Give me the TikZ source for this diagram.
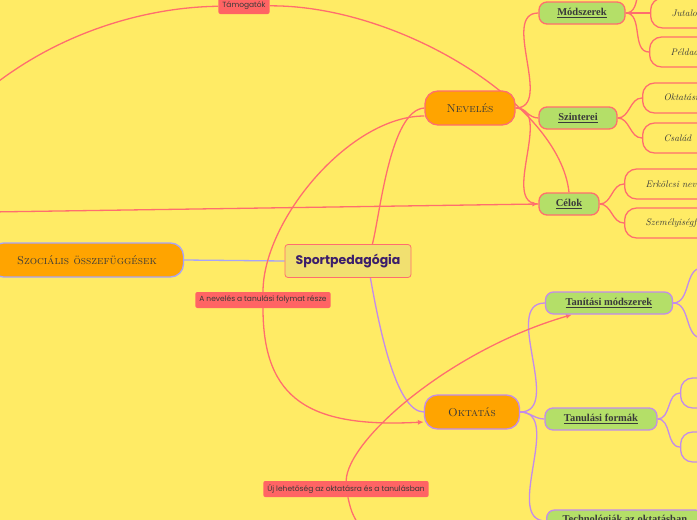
\documentclass[tikz,border=0pt]{standalone}
\usepackage{fontspec}
\newfontfamily\relfont{Poppins}
\newfontfamily\subfont{Liberation Serif}
\usetikzlibrary{arrows.meta,positioning}
\pgfdeclarelayer{paper}
\pgfdeclarelayer{links}
\pgfsetlayers{paper,links,main}
\definecolor{Paper}{HTML}{FFEB65}
\definecolor{Coral}{HTML}{FF6E6E}
\definecolor{Lilac}{HTML}{C38BEB}
\definecolor{Peri}{HTML}{A7A4FA}
\definecolor{Tangerine}{HTML}{FFA400}
\definecolor{Leaf}{HTML}{B4DF68}
\definecolor{Straw}{HTML}{F1E070}
\definecolor{Plum}{HTML}{3B1D6B}
\definecolor{Ink}{HTML}{3A3A3A}
\definecolor{Salmon}{HTML}{FF6464}

\begin{document}
\begin{tikzpicture}[
  x=1pt,y=-1pt,>={Latex[length=6pt,width=5pt]},
  root/.style={draw=Coral,fill=Straw,line width=.8pt,rounded corners=3pt,
    minimum width=126pt,minimum height=33pt,
    font=\relfont\bfseries\fontsize{12.5}{14}\selectfont,text=Plum},
  topic/.style={fill=Tangerine,line width=1.3pt,rounded corners=13pt,
    minimum height=34pt,font=\scshape\fontsize{11.5}{13}\selectfont,text=Ink},
  sub/.style={fill=Leaf,draw=Coral,line width=1.3pt,rounded corners=8pt,
    minimum height=22pt,inner xsep=0pt,
    font=\subfont\bfseries\fontsize{10.5}{12}\selectfont,text=Ink},
  leaf/.style={draw=Coral,line width=1.3pt,rounded corners=12pt,
    minimum height=30pt,text width=110pt,inner xsep=21pt,anchor=west,
    align=left,font=\itshape\fontsize{9.5}{11}\selectfont,text=Ink},
  rel/.style={fill=Salmon,rounded corners=2pt,inner xsep=4pt,inner ysep=0pt,
    minimum height=16pt,font=\relfont\fontsize{7.5}{9}\selectfont,text=Ink},
  branch/.style={draw=Coral,line width=1.3pt},
  lbranch/.style={draw=Lilac,line width=1.3pt},
  link/.style={draw=Coral,line width=1.3pt}
]
\useasboundingbox (0,0) rectangle (697,520);
\begin{pgfonlayer}{paper}
\fill[Paper] (0,0) rectangle (697,520);
\end{pgfonlayer}
\clip (0,0) rectangle (697,520);
% main topics
\node[root] (sport) at (348,261) {Sportpedagógia};
\node[topic,draw=Peri,minimum width=193pt] (szoc) at (87,260) {Szociális összefüggések};
\node[topic,draw=Coral,minimum width=90pt] (nev) at (470,108) {Nevelés};
\node[topic,draw=Lilac,minimum width=95pt] (okt) at (472,412) {Oktatás};
% subtopics
\node[sub,minimum width=86pt] (mod) at (582,13) {\underline{Módszerek}};
\node[sub,minimum width=78pt] (szin) at (578,118) {\underline{Szinterei}};
\node[sub,minimum width=60pt] (cel) at (569,204) {\underline{Célok}};
\node[sub,draw=Lilac,minimum width=127pt] (tan) at (609,303) {\underline{Tanítási módszerek}};
\node[sub,draw=Lilac,minimum width=112pt] (tform) at (601,419) {\underline{Tanulási formák}};
\node[sub,draw=Lilac,anchor=west,inner xsep=16pt] (tech) at (546,521) {\underline{Technológiák az oktatásban}};
% leaves, running past the right edge
\node[leaf] (jut) at (650,13) {Jutalom};
\node[leaf] (pel) at (649,52) {Példaadás};
\node[leaf] (oint) at (642,98) {Oktatási intézmények};
\node[leaf] (csal) at (642,138) {Család};
\node[leaf] (erk) at (624,184) {Erkölcsi nevelés};
\node[leaf] (szem) at (624,223) {Személyiségfejlesztés};
\node[leaf,draw=Lilac] (tfa) at (680,393) {};
\node[leaf,draw=Lilac] (tfb) at (680,447) {};
% ends outside the frame
\coordinate (modtop) at (650,-27);
\coordinate (tana) at (702,268);
\coordinate (tanb) at (702,338);
\coordinate (tamin) at (-15,92);
\coordinate (celin) at (-10,212);
\coordinate (newin) at (372,545);
% relation labels
\node[rel] (rtam) at (244,6) {Támogatók};
\node[rel] (rnev) at (263,300) {A nevelés a tanulási folymat része};
\node[rel] (rnew) at (346,489) {Új lehetőség az oktatásra és a tanulásban};

\begin{pgfonlayer}{links}
% branches
\draw[draw=Peri,line width=1.3pt] (sport.west)--(szoc.east);
\draw[branch] ([xshift=-39pt]sport.north east) .. controls (380,215) and (390,110) .. (nev.west);
\draw[lbranch] ([xshift=-41pt]sport.south east) .. controls (378,320) and (395,412) .. (okt.west);
\foreach \c in {mod,szin,cel}
  \draw[branch] (nev.east) to[out=0,in=180] (\c.west);
\foreach \c in {tan,tform,tech}
  \draw[lbranch] (okt.east) to[out=0,in=180] (\c.west);
\foreach \c in {modtop,jut.west,pel.west}
  \draw[branch] (mod.east) to[out=0,in=180] (\c);
\foreach \c in {oint,csal}
  \draw[branch] (szin.east) to[out=0,in=180] (\c.west);
\foreach \c in {erk,szem}
  \draw[branch] (cel.east) to[out=0,in=180] (\c.west);
\foreach \c in {tana,tanb}
  \draw[lbranch] (tan.east) to[out=0,in=180] (\c);
\foreach \c in {tfa,tfb}
  \draw[lbranch] (tform.east) to[out=0,in=180] (\c.west);

% relations
\draw[link] (tamin) .. controls (60,30) and (150,7) .. (rtam);
\draw[link] (rtam) .. controls (400,5) and (560,105) .. (cel.north);
\draw[link,->] (celin)--(cel.west);
\draw[link] ([yshift=-8pt]nev.west) .. controls (350,116) and (263,220) .. (rnev);
\draw[link,->] (rnev) .. controls (263,400) and (310,428) .. ([yshift=-10pt]okt.west);
\draw[link] (newin) .. controls (352,515) .. (rnew);
\draw[link,->] (rnew) .. controls (347,440) and (450,350) .. ([xshift=-37pt]tan.south);
\end{pgfonlayer}
\end{tikzpicture}
\end{document}
